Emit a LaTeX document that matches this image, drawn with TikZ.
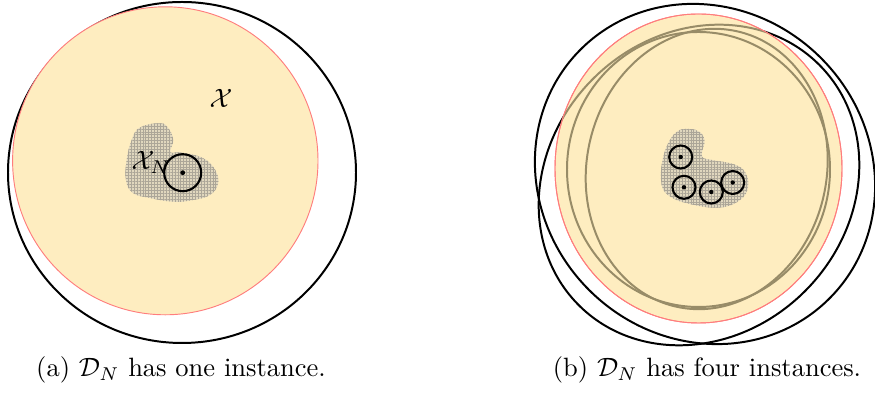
\documentclass[tikz,border=0pt]{standalone}
\usepackage{amsmath}
\usetikzlibrary{patterns.meta}
\definecolor{fillY}{RGB}{254,237,192}
\definecolor{edgeR}{RGB}{255,125,125}
\definecolor{olvline}{RGB}{152,140,104}
\definecolor{blobC}{RGB}{224,215,190}
\definecolor{gridC}{RGB}{172,166,152}
\newcommand\myinstances[1]{%
  \draw[#1, rotate around={-45:(705,174)}] (705,174) ellipse [x radius=176, y radius=164];
  \draw[#1, rotate around={45:(699,185)}] (699,185) ellipse [x radius=170, y radius=150];
  \draw[#1] (698.5,169.5) ellipse [x radius=131.5, y radius=137.5];
  \draw[#1, rotate around={-12:(706.7,169)}] (706.7,169) ellipse [x radius=120, y radius=141];
}
\begin{document}
\begin{tikzpicture}[x=0.3774pt,y=-0.3774pt,
  outer/.style={draw=black,line width=0.75pt},
  inner/.style={draw=olvline,line width=0.75pt},
  domfill/.style={fill=fillY,draw=edgeR,line width=0.35pt},
  blobfill/.style={fill=blobC},
  blobgrid/.style={pattern={Lines[distance=1.1pt,angle=0,line width=0.2pt]},pattern color=gridC},
  blobgridv/.style={pattern={Lines[distance=1.1pt,angle=90,line width=0.2pt]},pattern color=gridC},
  ring/.style={draw=black,line width=0.8pt},
  lbl/.style={inner sep=0pt}]
\useasboundingbox (0,0) rectangle (875,400);

% ---------------- left panel ----------------
\draw[outer] (182,172.5) ellipse [x radius=174, y radius=170.5];
\path[domfill] (165.3,160.8) ellipse [x radius=152.7, y radius=154];
\def\blobL{plot[smooth cycle,tension=0.7] coordinates {(160,123.3) (168.3,128.3) (173.3,140) (170.5,152) (180,152.5) (200,156.7) (213,166.7) (218.3,181.7) (210,195) (190,200.5) (173,201.7) (150,198) (133,193) (126,180) (126.7,160) (131.7,140) (140,127.5)}}
\path[blobfill] \blobL;
\path[blobgrid] \blobL;
\path[blobgridv] \blobL;
\draw[ring] (182.7,172.7) circle [radius=18.5];
\fill (182.7,172.7) circle [radius=2.4];
\node[lbl] (X) at (221,98) {$\mathcal{X}$};
\node[lbl,anchor=base west] (XN) at (131,170) {$\mathcal{X}_N$};
\node[lbl,anchor=base] (capa) at (181,377) {(a) $\mathcal{D}_N$ has one instance.};

% ---------------- right panel ----------------
\def\domR{(698.5,168.5) ellipse [x radius=143.5, y radius=154.5]}
\myinstances{outer}
\path[domfill] \domR;
\begin{scope}
  \clip \domR;
  \myinstances{inner}
\end{scope}
\path[draw=edgeR,line width=0.35pt] \domR;
\def\blobR{plot[smooth cycle,tension=0.7] coordinates {(686.7,129) (698,131) (704.5,140) (702,156) (712,160) (733,164) (745,172) (748,187) (740,200) (720,207.5) (690,204) (668,195) (661,180) (663.3,157) (670,140) (678,131)}}
\path[blobfill] \blobR;
\path[blobgrid] \blobR;
\path[blobgridv] \blobR;
\foreach \p/\q in {680.7/157, 684/187.3, 711.3/192, 732.7/182.5}{
  \draw[ring] (\p,\q) circle [radius=11.5];
  \fill (\p,\q) circle [radius=2.2];
}
\node[lbl,anchor=base] (capb) at (707,377) {(b) $\mathcal{D}_N$ has four instances.};
\end{tikzpicture}
\end{document}
